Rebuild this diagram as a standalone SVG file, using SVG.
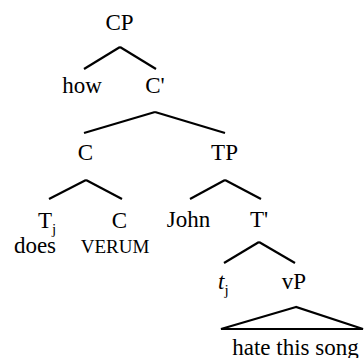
<svg xmlns="http://www.w3.org/2000/svg" width="364" height="358" viewBox="0 0 364 358">
<style>
text{font-family:"Liberation Serif","Times New Roman",serif;font-size:23px;fill:#000;text-anchor:middle}
.sm{font-size:19px}
.sub{font-size:15px}
.st{text-anchor:start}
.conn line,.conn polygon{stroke:#000;stroke-width:2.2;fill:none;stroke-linecap:butt}
</style>
<rect width="364" height="358" fill="#fff"/>
<g class="conn">
<line x1="120" y1="47" x2="84" y2="69"/>
<line x1="120" y1="47" x2="156" y2="69"/>
<line x1="155" y1="112" x2="84" y2="133"/>
<line x1="155" y1="112" x2="225" y2="133"/>
<line x1="86" y1="180" x2="49" y2="199"/>
<line x1="86" y1="180" x2="122" y2="199"/>
<line x1="225" y1="180" x2="190" y2="199"/>
<line x1="225" y1="180" x2="261" y2="199"/>
<line x1="259" y1="242" x2="224" y2="263"/>
<line x1="259" y1="242" x2="295" y2="263"/>
<polygon points="296,307 221,329 363,329"/>
</g>
<g id="CP"><text x="119.5" y="30">CP</text></g>
<g id="how"><text x="82" y="93">how</text></g>
<g id="Cbar"><text x="155" y="93">C'</text></g>
<g id="C"><text x="85.5" y="160">C</text></g>
<g id="TP"><text x="224.5" y="160">TP</text></g>
<g id="Tj"><text class="st" x="38" y="228">T<tspan class="sub" dy="6">j</tspan></text><text x="35" y="253">does</text></g>
<g id="Cverum"><text x="119.5" y="228">C</text><text class="sm" x="115" y="253">VERUM</text></g>
<g id="John"><text x="188.5" y="227">John</text></g>
<g id="Tbar"><text x="259" y="227">T'</text></g>
<g id="tj"><text class="st" x="218" y="289"><tspan font-style="italic">t</tspan><tspan class="sub" dy="6">j</tspan></text></g>
<g id="vP"><text x="294" y="289">vP</text></g>
<g id="hate"><text x="295.5" y="355">hate this song</text></g>
</svg>
